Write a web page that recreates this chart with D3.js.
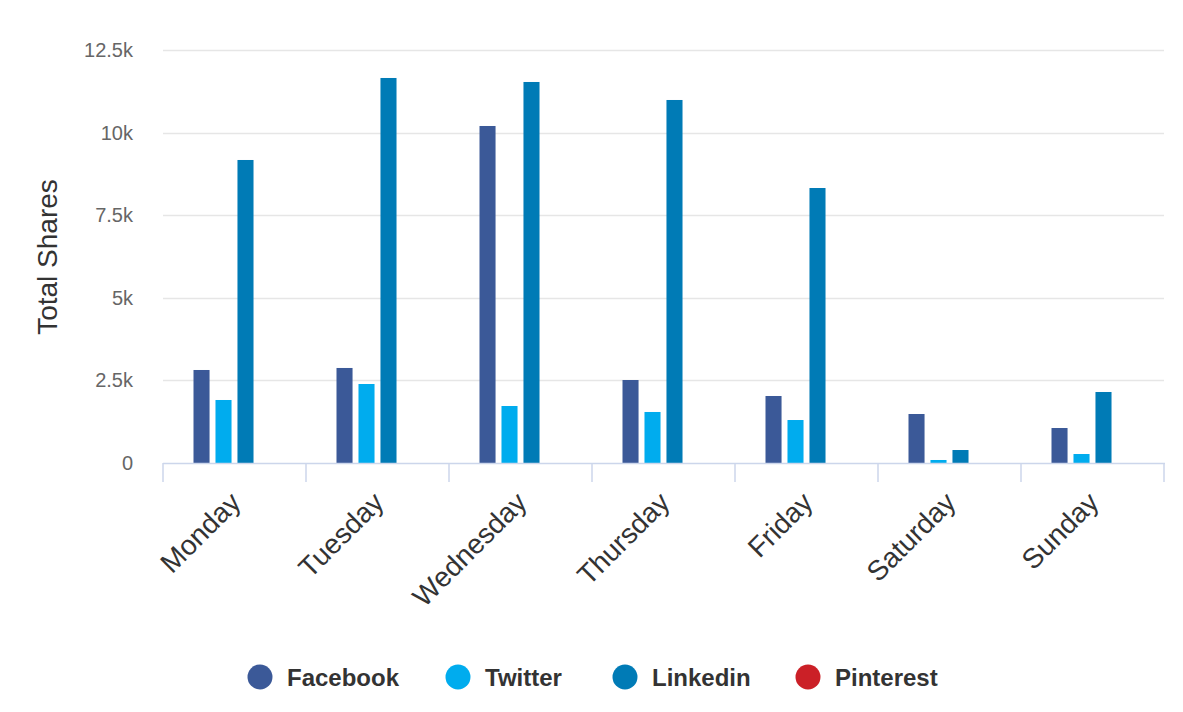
<!DOCTYPE html>
<html><head><meta charset="utf-8">
<script src="https://cdn.jsdelivr.net/npm/d3@7"></script>
<style>body{margin:0;background:#fff;}svg{display:block;font-family:"Liberation Sans",Arial,sans-serif;}</style>
</head><body>
<svg id="c" width="1183" height="712"></svg>
<script>
const categories = ["Monday","Tuesday","Wednesday","Thursday","Friday","Saturday","Sunday"];
const seriesNames = ["Facebook","Twitter","Linkedin","Pinterest"];
const facebook = [2815, 2876, 10200, 2512, 2028, 1483, 1059];
const twitter  = [1907, 2391, 1725, 1544, 1301, 91, 272];
const linkedin = [9171, 11653, 11532, 10987, 8323, 393, 2149];
const pinterest = [0, 0, 0, 0, 0, 0, 0];
const yTicks = [0, 2500, 5000, 7500, 10000, 12500];
const yTickLabels = ["0","2.5k","5k","7.5k","10k","12.5k"];
const colors = ["#3b5998","#00acee","#007bb6","#cb2027"];
const seriesValues = [facebook, twitter, linkedin, pinterest];

(function(){
const svg = d3.select("#c");
const pLeft = 163, pRight = 1164, pTop = 50, pBottom = 463;
const x = d3.scaleBand().domain(categories).range([pLeft, pRight]).paddingInner(0).paddingOuter(0);
const y = d3.scaleLinear().domain([0, 12500]).range([pBottom, pTop]);
const groupW = 82;
const sub = d3.scaleBand().domain(seriesNames).range([0, groupW]).paddingInner(0.27).paddingOuter(0);

// gridlines
svg.append("g").selectAll("line").data(yTicks.slice(1)).join("line")
  .attr("x1", pLeft).attr("x2", pRight)
  .attr("y1", d => Math.round(y(d)) + 0.5).attr("y2", d => Math.round(y(d)) + 0.5)
  .attr("stroke", "#e6e6e6").attr("stroke-width", 1.5);

// y tick labels
svg.append("g").selectAll("text").data(yTicks).join("text")
  .attr("x", 133).attr("y", d => y(d) + 7)
  .attr("text-anchor", "end").attr("font-size", 20).attr("fill", "#666")
  .text((d, i) => yTickLabels[i]);

// y title
svg.append("text").attr("transform", "translate(57,257) rotate(-90)")
  .attr("text-anchor", "middle").attr("font-size", 28).attr("fill", "#333")
  .text("Total Shares");

// bars
seriesNames.forEach((s, si) => {
  svg.append("g").selectAll("rect").data(categories).join("rect")
    .attr("x", c => x(c) + (x.bandwidth() - groupW) / 2 + sub(s))
    .attr("width", sub.bandwidth())
    .attr("y", (c, i) => y(seriesValues[si][i]))
    .attr("height", (c, i) => pBottom - y(seriesValues[si][i]))
    .attr("fill", colors[si]);
});

// x axis
const xAxis = svg.append("g");
xAxis.append("line").attr("x1", pLeft).attr("x2", pRight + 1).attr("y1", pBottom + 0.5).attr("y2", pBottom + 0.5)
  .attr("stroke", "#ccd6eb").attr("stroke-width", 1.5);
const tickPos = categories.map(c => x(c)).concat([pRight]);
xAxis.selectAll("line.t").data(tickPos).join("line").attr("class", "t")
  .attr("x1", d => d).attr("x2", d => d).attr("y1", pBottom).attr("y2", pBottom + 19)
  .attr("stroke", "#ccd6eb").attr("stroke-width", 1.5);
xAxis.selectAll("text").data(categories).join("text")
  .attr("transform", c => `translate(${x(c) + x.bandwidth() / 2 + 8},${pBottom + 41}) rotate(-45)`)
  .attr("text-anchor", "end").attr("font-size", 28).attr("fill", "#333")
  .text(c => c);

// legend
const legendX = [260, 458, 625, 808];
const lg = svg.append("g").selectAll("g").data(seriesNames).join("g")
  .attr("transform", (d, i) => `translate(${legendX[i]},677)`);
lg.append("circle").attr("r", 12.5).attr("fill", (d, i) => colors[i]);
lg.append("text").attr("x", 27).attr("y", 9).attr("font-size", 24).attr("font-weight", "bold")
  .attr("fill", "#333").text(d => d);
})();
</script>
</body></html>
